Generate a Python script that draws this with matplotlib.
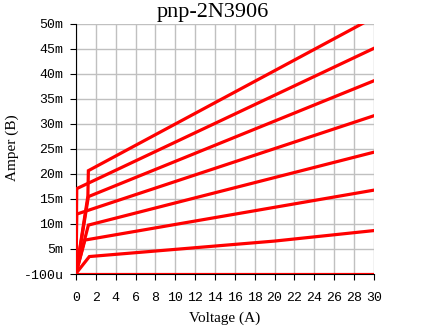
import matplotlib
matplotlib.use('Agg')
import matplotlib.pyplot as plt

# collector curves, one per base current step (volts, milliamps)
v1 = [0, 1.2, 1.25, 30]
i1 = [0, 15.5, 20.6, 51.3]
v2 = [0, 0.08, 30]
i2 = [0, 17.0, 45.1]
v3 = [0, 1.25, 30]
i3 = [0, 15.4, 38.6]
v4 = [0, 0.08, 30]
i4 = [0, 11.9, 31.6]
v5 = [0, 1.25, 30]
i5 = [0, 9.7, 24.3]
v6 = [0, 0.9, 30]
i6 = [0, 6.7, 16.7]
v7 = [0, 1.35, 20, 30]
i7 = [0, 3.4, 6.5, 8.6]
v8 = [0, 30]
i8 = [0, 0]

curves = [(v1, i1), (v2, i2), (v3, i3), (v4, i4),
          (v5, i5), (v6, i6), (v7, i7), (v8, i8)]

xticks = list(range(0, 31, 2))
yticks = [-0.0001] + [k * 0.005 for k in range(1, 11)]
ylabels = ['-100u'] + ['%dm' % (k * 5) for k in range(1, 11)]

fig = plt.figure(figsize=(4.22, 3.27), dpi=100)
ax = fig.add_axes([0.180, 0.162, 0.706, 0.765])

for v, i in curves:
    ax.plot(v, [x / 1000 for x in i], color='#ff0000', lw=2.3,
            solid_joinstyle='miter', zorder=3)

ax.set_xlim(0, 30)
ax.set_ylim(-0.0001, 0.05)
ax.set_xticks(xticks)
ax.set_xticklabels([str(t) for t in xticks], family='Liberation Mono', fontsize=9.5)
ax.set_yticks(yticks)
ax.set_yticklabels(ylabels, family='Liberation Mono', fontsize=9.5)
ax.grid(True, color='#c0c0c0', lw=1)
ax.set_axisbelow(True)
for s in ['top', 'right']:
    ax.spines[s].set_visible(False)
ax.tick_params(direction='out', length=4, color='black')
ax.tick_params(axis='x', pad=9)
ax.tick_params(axis='y', pad=5)

fig.text(213 / 422, 1 - 13 / 327, 'pnp-2N3906', family='Liberation Serif',
         fontsize=16, ha='center', va='center')
fig.text(225 / 422, 1 - 318 / 327, 'Voltage (A)', family='Liberation Serif',
         fontsize=11, ha='center', va='center')
fig.text(12 / 422, 1 - 148 / 327, 'Amper (B)', family='Liberation Serif',
         fontsize=11, ha='center', va='center', rotation=90)

fig.savefig('out.png', dpi=100)
